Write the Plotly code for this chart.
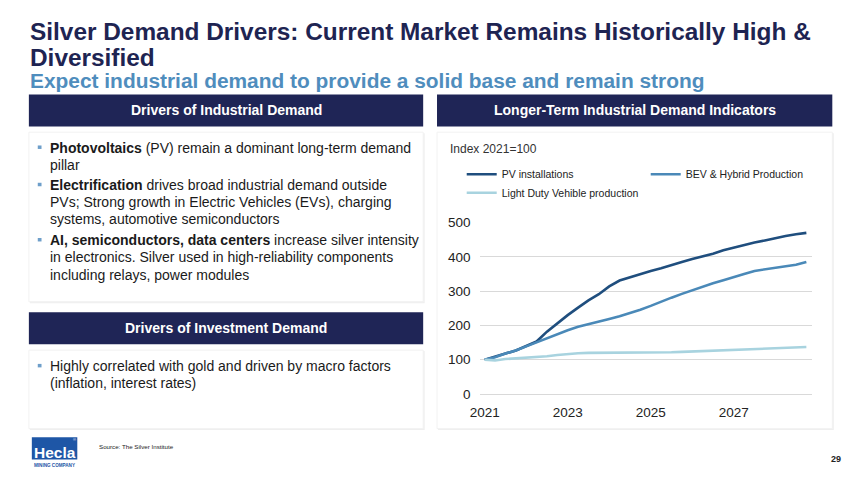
import plotly.graph_objects as go

# ---------------- data ----------------
years = ["2021", "2022", "2023", "2024", "2025", "2026", "2027", "2028"]
periods = [f"{y}Q{q}" for y in years for q in (1, 2, 3, 4)]
tick_vals = ["2021Q1", "2023Q1", "2025Q1", "2027Q1"]
tick_text = ["2021", "2023", "2025", "2027"]

pv_installations = [100, 108, 118, 127, 139, 153, 182, 207, 230, 252, 273, 291, 314, 331, 341, 350,
                    359, 367, 375, 385, 394, 401, 409, 419, 427, 434, 442, 448, 455, 461, 466, 470]
bev_hybrid = [100, 107, 118, 127, 139, 151, 163, 174, 186, 196, 203, 212, 219, 227, 236, 246,
              257, 270, 281, 292, 303, 314, 323, 332, 340, 350, 359, 364, 368, 372, 377, 385]
light_duty = [100, 98, 102, 104, 105, 107, 110, 114, 117, 119, 120, 120, 120, 121, 121, 121,
              122, 122, 122, 123, 124, 125, 126, 127, 128, 129, 130, 132, 133, 134, 136, 137]

series_names = ["PV installations", "BEV & Hybrid Production", "Light Duty Vehible production"]
series_colors = ["#1F4E7E", "#4A89B8", "#A8D3DF"]

W, H = 850, 478
OFF = 8  # page offset of the figure in the browser
FONT = "Liberation Sans, Arial, sans-serif"
NAVY = "#1F2556"


def X(px):
    return (px - OFF) / W


def Y(py):
    return 1 - (py - OFF) / H


fig = go.Figure()
for name, vals, col, leg in zip(series_names, [pv_installations, bev_hybrid, light_duty],
                                series_colors, ["legend", "legend", "legend2"]):
    fig.add_trace(go.Scatter(x=periods, y=vals, mode="lines", name=name,
                             line=dict(color=col, width=2.6), legend=leg,
                             hoverinfo="skip"))

shapes = []


def rect(x0, y0, x1, y1, fill, line="rgba(0,0,0,0)", lw=0):
    shapes.append(dict(type="rect", xref="paper", yref="paper", x0=X(x0), x1=X(x1),
                       y0=Y(y1), y1=Y(y0), fillcolor=fill,
                       line=dict(color=line, width=lw), layer="below"))


# panels (with faint shadow)
for (x0, y0, x1, y1) in [(19, 129, 418, 304), (19, 354, 418, 435), (432, 129, 832, 435)]:
    rect(x0 + 1, y0 + 1, x1 + 1.5, y1 + 1.5, "#EFEFEF")
    rect(x0, y0, x1, y1, "#FFFFFF", "#F2F2F2", 1)
# header bars
rect(19, 90, 418, 123, NAVY)
rect(432, 90, 832, 123, NAVY)
rect(19, 315, 418, 348, NAVY)
# bullets
for by in [144.5, 183, 240, 370]:
    rect(28, by - 1.8, 31.8, by + 1.8, "#6E9FCA")
# logo
rect(22, 444, 68, 467, "#1E56A6")

ann = []


def text(x, y, s, size, color="#222222", bold=False, anchor="left", family=FONT):
    if bold:
        s = "<b>" + s + "</b>"
    ann.append(dict(x=X(x), y=Y(y), xref="paper", yref="paper", text=s, showarrow=False,
                    xanchor=anchor, yanchor="middle",
                    font=dict(size=size, color=color, family=family)))


# titles
text(18.5, 25.5, "Silver Demand Drivers: Current Market Remains Historically High &", 24.4, "#1E2452", True)
text(18.5, 51.5, "Diversified", 24.4, "#1E2452", True)
text(18.5, 76, "Expect industrial demand to provide a solid base and remain strong", 20.9, "#4F8DBD", True)

# headers
text(218.5, 106.5, "Drivers of Industrial Demand", 14, "#FFFFFF", True, "center")
text(632, 106.5, "Longer-Term Industrial Demand Indicators", 14, "#FFFFFF", True, "center")
text(218.5, 331.5, "Drivers of Investment Demand", 14, "#FFFFFF", True, "center")

# left bullets
lines = [
    (145, "<b>Photovoltaics</b> (PV) remain a dominant long-term demand"),
    (163, "pillar"),
    (183, "<b>Electrification</b> drives broad industrial demand outside"),
    (201, "PVs; Strong growth in Electric Vehicles (EVs), charging"),
    (219, "systems, automotive semiconductors"),
    (240, "<b>AI, semiconductors, data centers</b> increase silver intensity"),
    (258, "in electronics. Silver used in high-reliability components"),
    (276, "including relays, power modules"),
    (370, "Highly correlated with gold and driven by macro factors"),
    (388, "(inflation, interest rates)"),
]
for ly, s in lines:
    text(38, ly, s, 14, "#1A1A1A")

# chart note
text(443, 146, "Index 2021=100", 12, "#333333")

# footer
text(88, 453, "Source: The Silver Institute", 6.2, "#222222")
text(843, 466, "29", 9, "#222222", True, "right")
text(45, 459.5, "Hecla", 15.5, "#FFFFFF", True, "center")
text(45, 473, "MINING COMPANY", 4.6, "#1E56A6", True, "center")
text(65.5, 446.5, "®", 4, "#FFFFFF", False, "center")

fig.update_layout(
    width=W, height=H, autosize=False,
    margin=dict(l=0, r=0, t=0, b=0),
    paper_bgcolor="#FFFFFF",
    plot_bgcolor="rgba(0,0,0,0)",
    font=dict(family=FONT, color="#222222"),
    shapes=shapes,
    annotations=ann,
    showlegend=True,
    legend=dict(orientation="h", x=X(457), xanchor="left", y=Y(157.5), yanchor="top",
                font=dict(size=10.5, color="#222222", family=FONT),
                entrywidth=139, entrywidthmode="pixels",
                bgcolor="rgba(0,0,0,0)", traceorder="normal"),
    legend2=dict(orientation="h", x=X(457), xanchor="left", y=Y(176.5), yanchor="top",
                 font=dict(size=10.5, color="#222222", family=FONT),
                 bgcolor="rgba(0,0,0,0)"),
    xaxis=dict(domain=[X(475), X(811)], type="category", categoryorder="array",
               categoryarray=periods, range=[-0.5, len(periods) - 0.5],
               tickmode="array", tickvals=tick_vals, ticktext=tick_text,
               showgrid=False, showline=False, zeroline=False, ticks="",
               ticklabelstandoff=8,
               tickfont=dict(size=13.5, color="#222222"), fixedrange=True),
    yaxis=dict(domain=[Y(399.3), Y(222.3)], range=[0, 500], dtick=100, tick0=0,
               showgrid=True, gridcolor="#D9D9D9", gridwidth=1,
               zeroline=True, zerolinecolor="#D9D9D9", zerolinewidth=1,
               showline=False, ticks="", ticklabelstandoff=8,
               tickfont=dict(size=13.5, color="#222222"),
               fixedrange=True),
)

fig.write_html("out.html")
